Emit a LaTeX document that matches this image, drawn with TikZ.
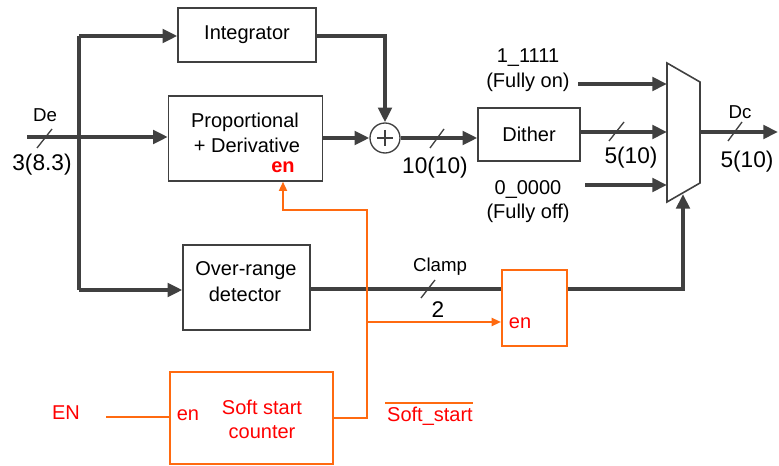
\documentclass[tikz,border=0pt]{standalone}
\usepackage{fontspec}
\setmainfont{Liberation Sans}
\usetikzlibrary{arrows.meta,calc}
\definecolor{dk}{HTML}{404040}
\definecolor{org}{HTML}{FF6A10}
\definecolor{rd}{HTML}{FF0000}
\begin{document}
\begin{tikzpicture}[x=0.75pt,y=-0.75pt,
  box/.style={draw=dk,line width=1pt,inner sep=0pt},
  obox/.style={draw=org,line width=1.5pt,inner sep=0pt},
  bus/.style={draw=dk,line width=3pt},
  arr/.style={-{Triangle[length=11pt,width=10pt]}},
  sig/.style={draw=org,line width=1.5pt},
  sarr/.style={-{Triangle[length=7pt,width=6pt]}},
  txt/.style={font=\fontsize{15}{17}\selectfont,inner sep=0pt},
  stxt/.style={font=\fontsize{14}{16}\selectfont,inner sep=0pt},
  num/.style={font=\fontsize{17}{19}\selectfont,inner sep=0pt},
  rtxt/.style={txt,text=rd},
  slash/.style={draw=dk,line width=1pt}]
\useasboundingbox (0,0) rectangle (779,466);
% boxes
\node[box,minimum width=103.5pt,minimum height=40.5pt] (int) at (247,35) {};
\node[txt] at (int) {Integrator};
\node[box,minimum width=115.5pt,minimum height=63.75pt] (pd) at (245.5,138.5) {};
\node[txt] at (245,122) {Proportional};
\node[txt] at (247,145) {+ Derivative};
\node[rtxt,font=\fontsize{15}{17}\selectfont\bfseries] (pden) at (283,167) {en};
\node[draw=dk,line width=1pt,circle,minimum size=22.5pt,inner sep=0pt] (add) at (385,138) {};
\draw[dk,line width=1pt] ($(add)+(-8,0)$) -- ($(add)+(8,0)$) ($(add)+(0,-8)$) -- ($(add)+(0,8)$);
\node[box,minimum width=76.5pt,minimum height=39.75pt] (dith) at (529,134.5) {};
\node[txt] at (dith) {Dither};
\node[box,minimum width=95.25pt,minimum height=63.75pt] (ovr) at (246.5,287.5) {};
\node[txt] at (246,271) {Over-range};
\node[txt] at (245,294) {detector};
\node[obox,minimum width=48.75pt,minimum height=57pt] (clb) at (534.5,308) {};
\node[rtxt] at (520,323) {en};
\node[obox,minimum width=122.25pt,minimum height=69pt] (soft) at (251.5,418) {};
\node[rtxt] at (188,415) {en};
\node[rtxt] at (262,407) {Soft start};
\node[rtxt] at (262,432) {counter};
% mux
\coordinate (m1) at (667,63);
\coordinate (m2) at (700,82);
\coordinate (m3) at (700,183);
\coordinate (m4) at (667,202);
\draw[dk,line width=1.2pt] (m1) -- (m2) -- (m3) -- (m4) -- cycle;
\coordinate (mi1) at (667,84);
\coordinate (mi2) at (667,132);
\coordinate (mi3) at (667,185);
\coordinate (mo) at (700,132);
\coordinate (mc) at (683,194);
% input
\coordinate (in) at (27,137);
\coordinate (tt) at (79,36);
\coordinate (tb) at (79,290);
\draw[bus,arr] (in) -- (pd.west |- in);
\draw[bus] (tt) -- (tb);
\draw[bus,arr] (tt) -- (int.west |- tt);
\draw[bus,arr] (tb) -- (ovr.west |- tb);
\draw[slash] (37,148) -- (52,129);
\node[stxt] at (45,115) {De};
\node[num] at (42,165) {3(8.3)};
% integrator to adder
\draw[bus,arr] (int.east |- tt) -| (add.north);
\draw[bus,arr] (pd.east |- add) -- (add.west);
\draw[bus,arr] (add.east) -- (dith.west |- add);
\draw[slash] (430,148) -- (444,129);
\node[num] at (435,168) {10(10)};
% mux inputs
\coordinate (fo) at (578,84);
\coordinate (ff) at (585,185);
\draw[bus,arr] (fo) -- (mi1);
\draw[bus,arr] (dith.east |- mi2) -- (mi2);
\draw[bus,arr] (ff) -- (mi3);
\node[txt] at (528,58) {1\_1111};
\node[txt] at (528,82) {(Fully on)};
\node[txt] at (528,190) {0\_0000};
\node[txt] at (528,213) {(Fully off)};
\draw[slash] (609,141) -- (624,122);
\node[num] at (631,158) {5(10)};
% output
\coordinate (out) at (778,132);
\draw[bus,arr] (mo) -- (out);
\draw[slash] (728,141) -- (742,122);
\node[stxt] at (740,112) {Dc};
\node[num] at (747,162) {5(10)};
% clamp
\coordinate (ck) at (683,289);
\draw[bus] (ovr.east |- ck) -- (clb.west |- ck);
\draw[bus,arr] (clb.east |- ck) -- (ck) -- (mc);
\draw[slash] (421,298) -- (435,280);
\node[stxt] at (440,267) {Clamp};
\node[num] at (438,310) {2};
% orange
\coordinate (o1) at (367,418);
\coordinate (o2) at (367,210);
\coordinate (o3) at (283,210);
\coordinate (ob) at (367,322);
\coordinate (en0) at (106,417);
\draw[sig,sarr] (soft.east |- o1) -- (o1) -- (o2) -- (o3) -- (pd.south -| o3);
\draw[sig,sarr] (ob) -- (clb.west |- ob);
\draw[sig] (en0) -- (soft.west |- en0);
\node[rtxt] at (66,413) {EN};
\node[rtxt] (ss) at (430,416) {Soft\_start};
\draw[org,line width=1pt] (385,403) -- (473,403);
\end{tikzpicture}
\end{document}
